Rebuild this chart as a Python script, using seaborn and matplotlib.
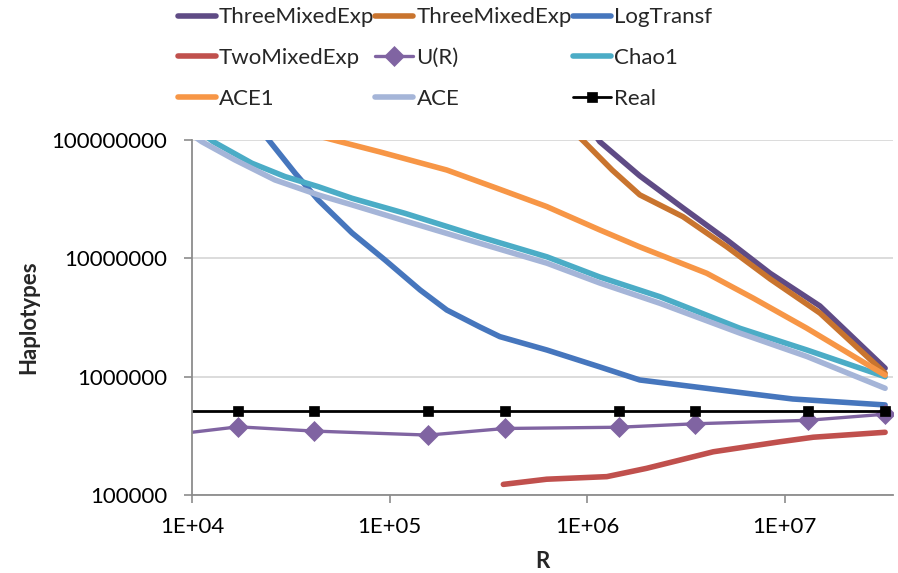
import matplotlib
matplotlib.use("Agg")
import matplotlib.pyplot as plt
import seaborn as sns
from matplotlib.ticker import FixedLocator, FixedFormatter, NullLocator

# ---- data: estimated number of haplotypes versus sample size R ----
three_mixed_a_r = [1.04e6, 1.16e6, 1.85e6, 3.06e6, 5.11e6, 8.45e6, 1.51e7, 3.23e7]
three_mixed_a_h = [1.26e8, 9.69e7, 4.98e7, 2.67e7, 1.43e7, 7.48e6, 3.96e6, 1.18e6]

three_mixed_b_r = [8.2e5, 9.66e5, 1.34e6, 1.85e6, 3.06e6, 5.11e6, 8.45e6, 1.51e7, 3.23e7]
three_mixed_b_h = [1.26e8, 9.69e7, 5.58e7, 3.44e7, 2.25e7, 1.25e7, 6.70e6, 3.45e6, 1.07e6]

log_transf_r = [1.97e4, 2.48e4, 3.33e4, 4.35e4, 6.46e4, 9.49e4, 1.43e5, 1.95e5,
                2.87e5, 3.62e5, 6.27e5, 1.16e6, 1.85e6, 4.71e6, 1.10e7, 3.23e7]
log_transf_h = [1.57e8, 9.7e7, 5.24e7, 3.12e7, 1.64e7, 9.69e6, 5.40e6, 3.66e6,
                2.63e6, 2.18e6, 1.68e6, 1.21e6, 9.38e5, 7.72e5, 6.48e5, 5.77e5]

two_mixed_r = [3.77e5, 6.25e5, 1.26e6, 2.0e6, 4.36e6, 9.5e6, 1.40e7, 3.23e7]
two_mixed_h = [1.23e5, 1.36e5, 1.43e5, 1.68e5, 2.32e5, 2.82e5, 3.08e5, 3.39e5]

sample_r = [7.0e3, 1.71e4, 4.15e4, 1.57e5, 3.84e5, 1.45e6, 3.52e6, 1.31e7, 3.23e7]
u_r_h = [3.16e5, 3.77e5, 3.47e5, 3.21e5, 3.65e5, 3.74e5, 4.0e5, 4.28e5, 4.82e5]
real_h = [5.1e5] * len(sample_r)

chao1_r = [1.04e4, 1.28e4, 2.01e4, 2.96e4, 4.35e4, 6.46e4, 1.20e5, 2.87e5,
           6.27e5, 1.16e6, 2.34e6, 5.96e6, 1.30e7, 3.23e7]
chao1_h = [1.26e8, 9.69e7, 6.37e7, 4.91e7, 4.04e7, 3.22e7, 2.40e7, 1.52e7,
           1.03e7, 6.96e6, 4.74e6, 2.56e6, 1.68e6, 1.0e6]

ace1_r = [3.52e4, 5.61e4, 8.96e4, 1.95e5, 3.49e5, 6.25e5, 1.16e6, 1.85e6,
          4.04e6, 6.96e6, 1.29e7, 3.23e7]
ace1_h = [1.19e8, 9.69e7, 7.93e7, 5.58e7, 3.92e7, 2.74e7, 1.74e7, 1.25e7,
          7.48e6, 4.60e6, 2.58e6, 1.03e6]

ace_r = [9.55e3, 1.12e4, 1.65e4, 2.63e4, 4.35e4, 6.46e4, 1.20e5, 2.87e5,
         6.27e5, 1.16e6, 2.34e6, 5.96e6, 1.30e7, 3.23e7]
ace_h = [1.17e8, 9.69e7, 6.79e7, 4.60e7, 3.44e7, 2.83e7, 2.07e7, 1.34e7,
         9.10e6, 6.19e6, 4.17e6, 2.33e6, 1.48e6, 7.98e5]

y_ticks = [1e5, 1e6, 1e7, 1e8]
y_tick_labels = ["100000", "1000000", "10000000", "100000000"]
x_ticks = [1e4, 1e5, 1e6, 1e7]
x_tick_labels = ["1E+04", "1E+05", "1E+06", "1E+07"]

# ---- style ----
sns.set_theme(style="white")
plt.rcParams["font.family"] = ["Lato", "DejaVu Sans"]
FS = 16

fig = plt.figure(figsize=(8.98, 5.73), dpi=100)
ax = fig.add_axes([0.2138, 0.1361, 0.7806, 0.6195])
ax.set_xscale("log")
ax.set_yscale("log")

thick = 4.0
series = [
    ("ThreeMixedExp", three_mixed_a_r, three_mixed_a_h, "#5F4B85", thick, None),
    ("ThreeMixedExp", three_mixed_b_r, three_mixed_b_h, "#C9742E", thick, None),
    ("LogTransf", log_transf_r, log_transf_h, "#4676BD", thick, None),
    ("TwoMixedExp", two_mixed_r, two_mixed_h, "#C0504D", thick, None),
    ("U(R)", sample_r, u_r_h, "#8064A2", 2.4, "D"),
    ("Chao1", chao1_r, chao1_h, "#4BACC6", thick, None),
    ("ACE1", ace1_r, ace1_h, "#F79646", thick, None),
    ("ACE", ace_r, ace_h, "#A5B5D8", thick, None),
    ("Real", sample_r, real_h, "#000000", 2.0, "s"),
]

handles = []
for label, xs, ys, color, lw, marker in series:
    kw = dict(solid_capstyle="round", solid_joinstyle="round")
    if marker == "D":
        kw.update(marker="D", markersize=10, markeredgecolor=color, markeredgewidth=0.5)
    elif marker == "s":
        kw.update(marker="s", markersize=6.5, markeredgecolor=color, markeredgewidth=0.5)
    sns.lineplot(x=xs, y=ys, ax=ax, color=color, linewidth=lw, sort=False,
                 estimator=None, label=label, **kw)
    handles.append(ax.get_lines()[-1])

ax.get_legend().remove()

ax.set_xlim(1e4, 3.54e7)
ax.set_ylim(1e5, 1e8)

ax.xaxis.set_major_locator(FixedLocator(x_ticks))
ax.xaxis.set_major_formatter(FixedFormatter(x_tick_labels))
ax.xaxis.set_minor_locator(NullLocator())
ax.yaxis.set_major_locator(FixedLocator(y_ticks))
ax.yaxis.set_major_formatter(FixedFormatter(y_tick_labels))
ax.yaxis.set_minor_locator(NullLocator())

ax.grid(axis="y", color="#D9D9D9", linewidth=1.3)
ax.grid(axis="x", visible=False)
ax.set_axisbelow(True)
for side in ("top", "right"):
    ax.spines[side].set_visible(False)
for side in ("left", "bottom"):
    ax.spines[side].set_color("#8C8C8C")
    ax.spines[side].set_linewidth(1.3)

ax.tick_params(axis="both", which="major", direction="out", length=6, width=1.2,
               color="#8C8C8C", labelsize=FS, labelcolor="#000000", left=True, bottom=True)
ax.tick_params(axis="y", pad=12)
ax.tick_params(axis="x", pad=10)

ax.set_xlabel("R", fontsize=FS, fontweight="bold", labelpad=10)
ax.set_ylabel("Haplotypes", fontsize=FS, fontweight="bold")
ax.yaxis.set_label_coords(-0.218, 0.5)

# legend laid out row by row in three columns
order = [0, 3, 6, 1, 4, 7, 2, 5, 8]
fig.legend([handles[i] for i in order], [series[i][0] for i in order],
           ncol=3, loc="upper left", bbox_to_anchor=(0.198, 0.987),
           frameon=False, fontsize=FS, handlelength=1.7, handletextpad=0.15,
           columnspacing=0.05, labelspacing=0.93, borderpad=0, borderaxespad=0,
           numpoints=1)

fig.savefig("out.png", dpi=100)
